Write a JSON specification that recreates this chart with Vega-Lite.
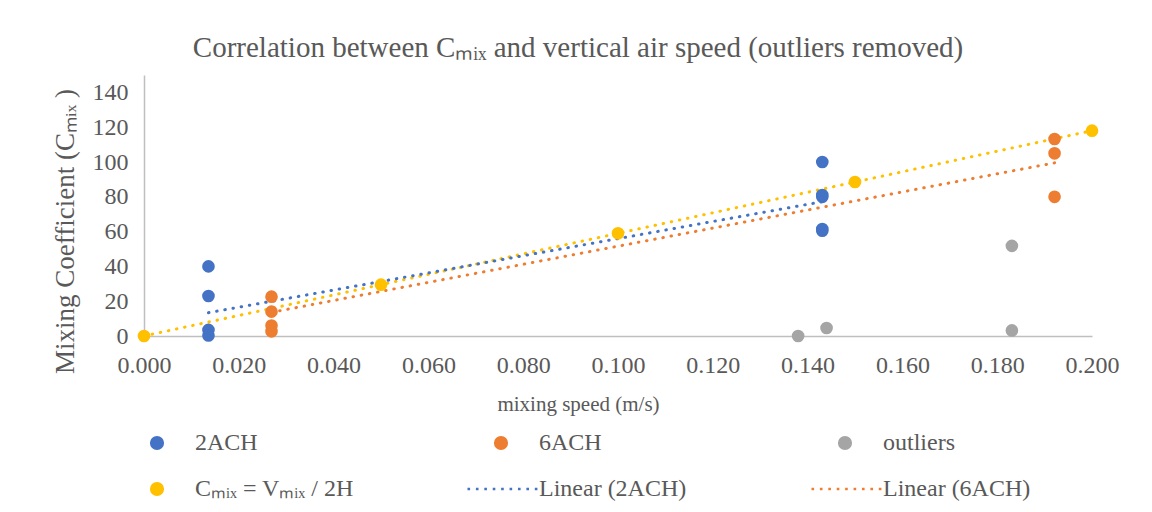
{
  "$schema": "https://vega.github.io/schema/vega-lite/v6.json",
  "width": 948,
  "height": 261,
  "autosize": "none",
  "padding": {"left": 144, "top": 75, "right": 60, "bottom": 176},
  "background": "white",
  "config": {
    "view": {"stroke": null},
    "font": "Liberation Serif",
    "axis": {"grid": false, "ticks": false, "domainColor": "#BFBFBF", "domainWidth": 1.5, "labelFont": "Liberation Serif", "labelFontSize": 24, "labelColor": "#595959", "titleFont": "Liberation Serif", "titleColor": "#595959", "titleFontWeight": "normal", "labelFlush": false},
    "legend": {"title": null, "orient": "none", "legendX": 1, "legendY": 356, "direction": "horizontal", "columns": 3, "gridAlign": "all", "columnPadding": 113, "rowPadding": 22, "padding": 0, "symbolSize": 200, "symbolStrokeWidth": 0, "labelFont": "Liberation Serif", "labelFontSize": 24, "labelColor": "#595959", "labelOffset": 26, "labelLimit": 400}
  },
  "title": {"text": "Correlation between Cₘᵢₓ and vertical air speed (outliers removed)", "font": "Liberation Serif", "fontSize": 29, "fontWeight": "normal", "color": "#595959", "dx": -40, "offset": 12},
  "datasets": {
    "points": [
      {"series": "2ACH", "x": 0.0136, "y": 40},
      {"series": "2ACH", "x": 0.0136, "y": 23},
      {"series": "2ACH", "x": 0.0136, "y": 3.5},
      {"series": "2ACH", "x": 0.0136, "y": 0.3},
      {"series": "2ACH", "x": 0.1431, "y": 100},
      {"series": "2ACH", "x": 0.1431, "y": 80},
      {"series": "2ACH", "x": 0.1431, "y": 81},
      {"series": "2ACH", "x": 0.1431, "y": 60.5},
      {"series": "2ACH", "x": 0.1431, "y": 61.5},
      {"series": "6ACH", "x": 0.0269, "y": 22.6},
      {"series": "6ACH", "x": 0.0269, "y": 14},
      {"series": "6ACH", "x": 0.0269, "y": 6},
      {"series": "6ACH", "x": 0.0269, "y": 2.7},
      {"series": "6ACH", "x": 0.1921, "y": 113.2},
      {"series": "6ACH", "x": 0.1921, "y": 105},
      {"series": "6ACH", "x": 0.1921, "y": 80},
      {"series": "outliers", "x": 0.138, "y": 0},
      {"series": "outliers", "x": 0.144, "y": 4.6},
      {"series": "outliers", "x": 0.1831, "y": 51.8},
      {"series": "outliers", "x": 0.1831, "y": 3.2},
      {"series": "Cₘᵢₓ = Vₘᵢₓ / 2H", "x": 0, "y": 0},
      {"series": "Cₘᵢₓ = Vₘᵢₓ / 2H", "x": 0.05, "y": 29.5},
      {"series": "Cₘᵢₓ = Vₘᵢₓ / 2H", "x": 0.1, "y": 59},
      {"series": "Cₘᵢₓ = Vₘᵢₓ / 2H", "x": 0.15, "y": 88.5},
      {"series": "Cₘᵢₓ = Vₘᵢₓ / 2H", "x": 0.2, "y": 118}
    ],
    "trend": [
      {"series": "Linear (2ACH)", "x": 0.0136, "y": 13.4},
      {"series": "Linear (2ACH)", "x": 0.1431, "y": 77.2},
      {"series": "Linear (6ACH)", "x": 0.0269, "y": 13.6},
      {"series": "Linear (6ACH)", "x": 0.1921, "y": 99.5}
    ],
    "ytrend": [
      {"x": 0, "y": 0},
      {"x": 0.2, "y": 118}
    ]
  },
  "encoding": {
    "x": {"field": "x", "type": "quantitative", "scale": {"domain": [0, 0.2], "nice": false, "zero": false}, "axis": {"values": [0, 0.02, 0.04, 0.06, 0.08, 0.1, 0.12, 0.14, 0.16, 0.18, 0.2], "format": ".3f", "labelPadding": 17, "title": "mixing speed (m/s)", "titleFontSize": 21, "titlePadding": 16, "titleX": 434}},
    "y": {"field": "y", "type": "quantitative", "scale": {"domain": [0, 150], "nice": false}, "axis": {"values": [0, 20, 40, 60, 80, 100, 120, 140], "format": "d", "labelPadding": 16, "title": "Mixing Coefficient (Cₘᵢₓ )", "titleFontSize": 27, "titleY": 156, "titleX": -65}}
  },
  "layer": [
    {
      "data": {"name": "ytrend"},
      "mark": {"type": "line", "color": "#FFC000", "strokeWidth": 3, "strokeDash": [0.5, 7.8], "strokeCap": "round"}
    },
    {
      "data": {"name": "trend"},
      "mark": {"type": "line", "strokeWidth": 3, "strokeDash": [0.5, 7.8], "strokeCap": "round"},
      "encoding": {
        "color": {"field": "series", "type": "nominal"}
      }
    },
    {
      "data": {"name": "points"},
      "mark": {"type": "point", "filled": true, "opacity": 1, "size": 160},
      "encoding": {
        "color": {"field": "series", "type": "nominal",
          "scale": {"domain": ["2ACH", "6ACH", "outliers", "Cₘᵢₓ = Vₘᵢₓ / 2H", "Linear (2ACH)", "Linear (6ACH)"], "range": ["#4472C4", "#ED7D31", "#A5A5A5", "#FFC000", "#4472C4", "#ED7D31"]}
        },
        "shape": {"field": "series", "type": "nominal",
          "scale": {"domain": ["2ACH", "6ACH", "outliers", "Cₘᵢₓ = Vₘᵢₓ / 2H", "Linear (2ACH)", "Linear (6ACH)"], "range": ["circle", "circle", "circle", "circle", "M-4.74,-0.185h0.37v0.37h-0.37Z M-3.55,-0.185h0.37v0.37h-0.37Z M-2.36,-0.185h0.37v0.37h-0.37Z M-1.17,-0.185h0.37v0.37h-0.37Z M0.02,-0.185h0.37v0.37h-0.37Z M1.21,-0.185h0.37v0.37h-0.37Z M2.4,-0.185h0.37v0.37h-0.37Z M3.59,-0.185h0.37v0.37h-0.37Z M4.78,-0.185h0.37v0.37h-0.37Z", "M-4.74,-0.185h0.37v0.37h-0.37Z M-3.55,-0.185h0.37v0.37h-0.37Z M-2.36,-0.185h0.37v0.37h-0.37Z M-1.17,-0.185h0.37v0.37h-0.37Z M0.02,-0.185h0.37v0.37h-0.37Z M1.21,-0.185h0.37v0.37h-0.37Z M2.4,-0.185h0.37v0.37h-0.37Z M3.59,-0.185h0.37v0.37h-0.37Z M4.78,-0.185h0.37v0.37h-0.37Z"]}
        }
      }
    }
  ]
}
